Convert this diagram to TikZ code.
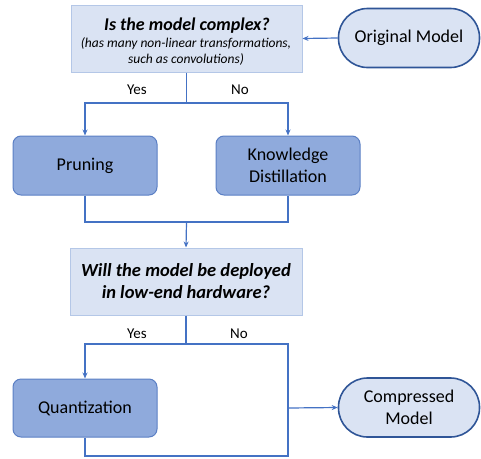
\documentclass[tikz,border=0pt]{standalone}
\usepackage{fontspec}
\setmainfont{Carlito}
\usetikzlibrary{arrows.meta}
\definecolor{qfill}{HTML}{DAE3F3}
\definecolor{qborder}{HTML}{B4C7E7}
\definecolor{pfill}{HTML}{8FAADC}
\definecolor{pborder}{HTML}{5B7FC4}
\definecolor{lcol}{HTML}{4472C4}
\definecolor{tborder}{HTML}{2F5597}
\tikzset{
  question/.style={draw=qborder, fill=qfill, line width=1pt, minimum width=231pt, minimum height=67pt, align=center, inner sep=0pt},
  qtitle/.style={font=\fontsize{18}{22}\selectfont\bfseries\itshape, inner sep=0pt, anchor=base},
  qsub/.style={font=\fontsize{13.5}{16}\selectfont\itshape, inner sep=0pt, anchor=base},
  process/.style={draw=pborder, fill=pfill, line width=1pt, rounded corners=8pt, minimum width=144pt, minimum height=59pt, align=center, inner sep=0pt, font=\fontsize{18}{22}\selectfont},
  terminal/.style={draw=tborder, fill=qfill, line width=1.6pt, rounded corners=29pt, minimum width=141pt, minimum height=59pt, align=center, inner sep=0pt, font=\fontsize{18}{22}\selectfont},
  conn/.style={draw=lcol, line width=1.2pt},
  arr/.style={conn, -{Stealth[length=6pt,width=5pt]}},
  lbl/.style={font=\fontsize{15}{17}\selectfont, inner sep=0pt}
}
\begin{document}
\begin{tikzpicture}[x=1pt,y=-1pt]
\useasboundingbox (0,0) rectangle (481,458);
\node[question] (q1) at (186.5,38.5) {};
\node[qtitle] (q1t) at (187,30) {Is the model complex?};
\node[qsub] (q1s1) at (186,47) {(has many non-linear transformations,};
\node[qsub] (q1s2) at (186,63) {such as convolutions)};
\node[terminal] (orig) at (409,38) {Original Model};
\node[process] (prun) at (85,165.5) {Pruning};
\node[process] (kd) at (288,165.5) {Knowledge\\Distillation};
\node[question, minimum width=232pt, font=\fontsize{18.5}{22}\selectfont\bfseries\itshape] (q2) at (186,281.5) {Will the model be deployed\\ in low-end hardware?};
\node[process, minimum height=58pt] (quant) at (85,408) {Quantization};
\node[terminal] (comp) at (409,407.5) {Compressed\\Model};

\coordinate (j1) at (186.5,103);
\coordinate (j2) at (186.5,222);
\coordinate (j3) at (186,344);
\coordinate (c1) at (288,344);
\coordinate (c2) at (288,456);
\coordinate (c3) at (288,408);

\draw[arr] (orig.west) -- (q1.east);
\draw[conn] (q1.south) -- (j1);
\draw[arr] (j1) -| (prun.north);
\draw[arr] (j1) -| (kd.north);
\draw[conn] (prun.south) |- (j2) -| (kd.south);
\draw[arr] (j2) -- (q2.north);
\draw[conn] (q2.south) -- (j3);
\draw[arr] (j3) -| (quant.north);
\draw[conn] (j3) -- (c1) -- (c2) -| (quant.south);
\draw[arr] (c3) -- (comp.west);

\node[lbl] (y1) at (137,90) {Yes};
\node[lbl] (n1) at (240,90) {No};
\node[lbl] (y2) at (137,334) {Yes};
\node[lbl] (n2) at (239,334) {No};
\end{tikzpicture}
\end{document}
